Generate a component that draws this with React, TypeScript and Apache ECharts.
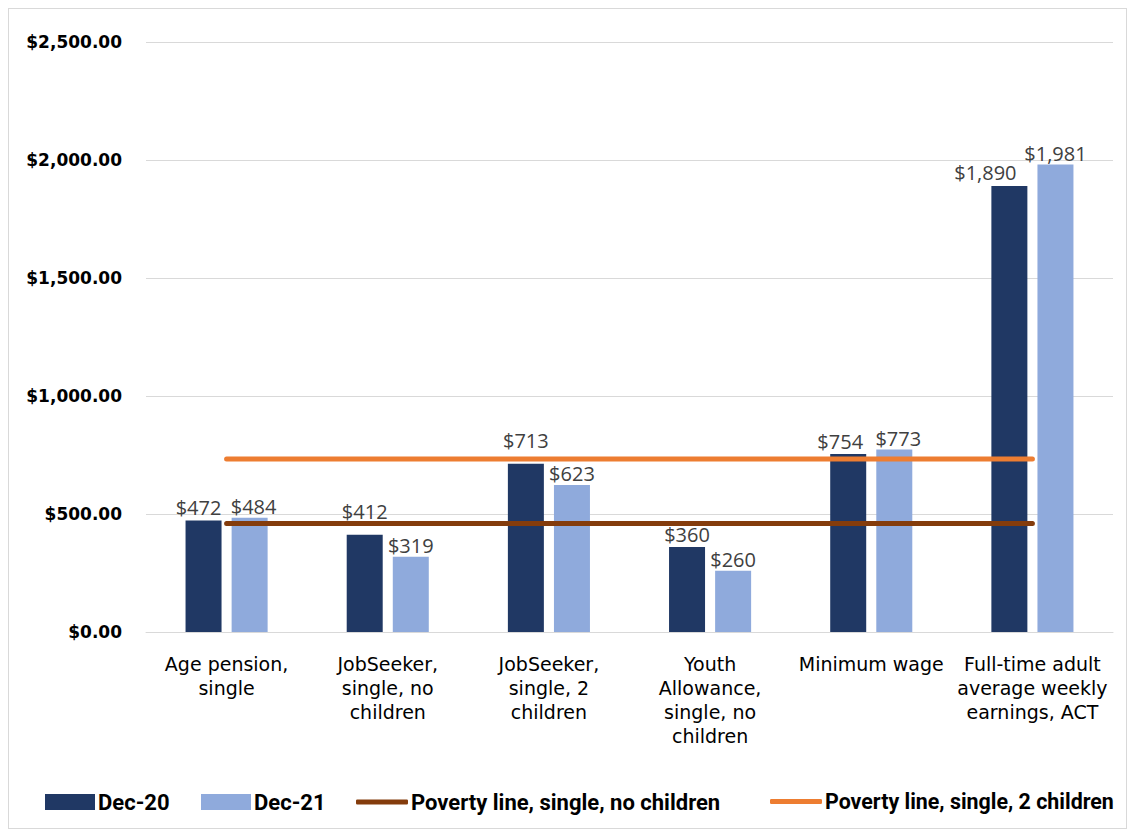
import React, { useEffect, useRef } from "react";
import * as echarts from "echarts";

const categories = [
  "Age pension,\nsingle",
  "JobSeeker,\nsingle, no\nchildren",
  "JobSeeker,\nsingle, 2\nchildren",
  "Youth\nAllowance,\nsingle, no\nchildren",
  "Minimum wage",
  "Full-time adult\naverage weekly\nearnings, ACT",
];
const dec20 = [472, 412, 713, 360, 754, 1890];
const dec21 = [484, 319, 623, 260, 773, 1981];
const povertyNoChildren = [460, 460, 460, 460, 460, 460];
const povertyTwoChildren = [733, 733, 733, 733, 733, 733];
const yTicks = { min: 0, max: 2500, interval: 500 };

const money = (v: number) => "$" + v.toLocaleString("en-US");

export default function App() {
  const ref = useRef<HTMLDivElement>(null);
  useEffect(() => {
    if (!ref.current) return;
    const chart = echarts.init(ref.current, undefined, { renderer: "svg" });
    const labelFont = { fontFamily: "Open Sans", fontSize: 20, color: "#404040" };
    const dec20Data = dec20.map((v, i) => {
      const item: any = { value: v };
      if (i === 0) item.label = { offset: [-5, 0] };
      if (i === 1 || i === 2) item.label = { distance: 13 };
      if (i === 4) item.label = { offset: [-8, 0] };
      if (i === 5) item.label = { offset: [-24, 0] };
      return item;
    });
    const dec21Data = dec21.map((v, i) => {
      const item: any = { value: v };
      if (i === 0) item.label = { offset: [4, 0] };
      if (i === 4) item.label = { offset: [4, 0] };
      return item;
    });
    const legendBase = {
      top: 777,
      itemWidth: 50,
      itemHeight: 16,
      itemGap: 0,
      textStyle: {
        fontFamily: "Roboto, sans-serif",
        fontWeight: "bold",
        fontSize: 22,
        color: "#000",
        padding: [0, 0, 0, -2],
      },
    };
    const lineLegend = { ...legendBase, itemWidth: 52, itemHeight: 5 };
    chart.setOption({
      animation: false,
      backgroundColor: "#fff",
      grid: { left: 137, right: 13, top: 33, bottom: 196, containLabel: false },
      legend: [
        { ...legendBase, left: 31, data: [{ name: "Dec-20", icon: "rect" }] },
        { ...legendBase, left: 187, data: [{ name: "Dec-21", icon: "rect" }] },
        { ...lineLegend, left: 342, data: [{ name: "Poverty line, single, no children", icon: "roundRect" }] },
        {
          ...lineLegend,
          left: 756,
          data: [{ name: "Poverty line, single, 2 children", icon: "roundRect" }],
          textStyle: { ...legendBase.textStyle, fontSize: 21.4 },
        },
      ],
      xAxis: {
        type: "category",
        data: categories,
        axisTick: { show: false },
        axisLine: { lineStyle: { color: "#d9d9d9", width: 1 } },
        axisLabel: {
          interval: 0,
          margin: 20,
          fontFamily: "DejaVu Sans",
          fontSize: 19,
          lineHeight: 24,
          color: "#000",
        },
      },
      yAxis: {
        type: "value",
        min: yTicks.min,
        max: yTicks.max,
        interval: yTicks.interval,
        axisLine: { show: false },
        axisTick: { show: false },
        splitLine: { lineStyle: { color: "#d9d9d9", width: 1 } },
        axisLabel: {
          margin: 24,
          fontFamily: "DejaVu Sans",
          fontWeight: "bold",
          fontSize: 17,
          color: "#000",
          formatter: (v: number) =>
            "$" + v.toLocaleString("en-US", { minimumFractionDigits: 2, maximumFractionDigits: 2 }),
        },
      },
      series: [
        {
          name: "Dec-20",
          type: "bar",
          data: dec20Data,
          barWidth: 36,
          barGap: "28%",
          itemStyle: { color: "#203864" },
          label: { show: true, position: "top", distance: 3, formatter: (p: any) => money(p.value), ...labelFont },
        },
        {
          name: "Dec-21",
          type: "bar",
          data: dec21Data,
          barWidth: 36,
          itemStyle: { color: "#8faadc" },
          label: { show: true, position: "top", distance: 1, formatter: (p: any) => money(p.value), ...labelFont },
        },
        {
          name: "Poverty line, single, no children",
          type: "line",
          data: povertyNoChildren,
          symbol: "none",
          lineStyle: { color: "#843c0c", width: 5, cap: "round" },
          itemStyle: { color: "#843c0c" },
          z: 5,
        },
        {
          name: "Poverty line, single, 2 children",
          type: "line",
          data: povertyTwoChildren,
          symbol: "none",
          lineStyle: { color: "#ed7d31", width: 5, cap: "round" },
          itemStyle: { color: "#ed7d31" },
          z: 5,
        },
      ],
    });
    return () => chart.dispose();
  }, []);
  return (
    <div style={{ width: 1119, height: 821, border: "1px solid #d9d9d9", boxSizing: "border-box" }}>
      <div ref={ref} style={{ width: 1117, height: 819 }} />
    </div>
  );
}
